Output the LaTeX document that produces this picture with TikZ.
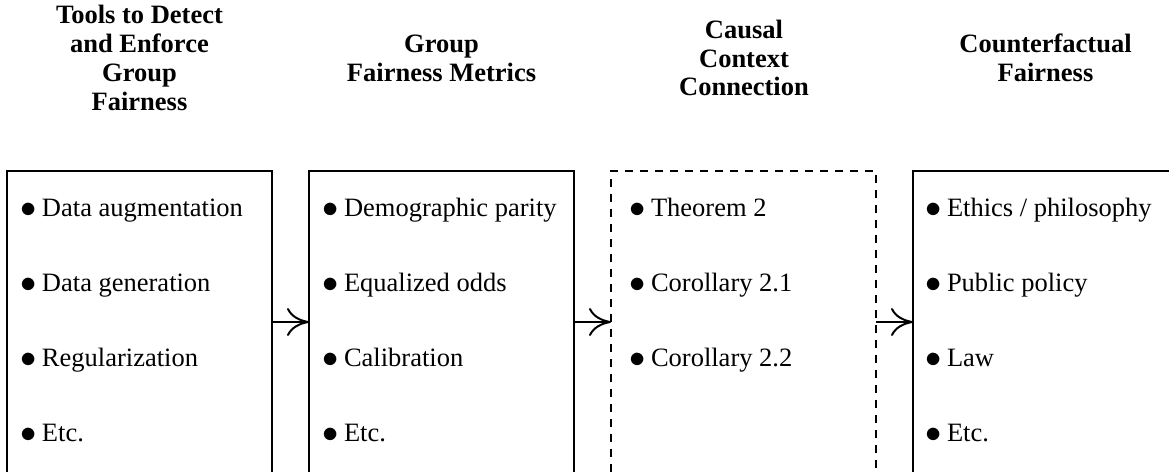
\documentclass[tikz,border=0pt]{standalone}
\usepackage{fontspec}
\setmainfont{Liberation Serif}
\usetikzlibrary{arrows.meta}
\newcommand{\bul}{\raisebox{-1.5pt}{\scalebox{1.3}{$\bullet$}}\kern-1pt}
\begin{document}
\begin{tikzpicture}[x=1pt,y=-1pt,
 box/.style={draw, line width=2pt, minimum width=265pt, minimum height=302pt, inner sep=0pt, outer sep=0pt, anchor=north west},
 dbox/.style={box, dash pattern=on 8pt off 7pt},
 head/.style={font=\fontsize{26.5}{28.8}\selectfont\bfseries, align=center, inner sep=0pt},
 item/.style={font=\fontsize{26.5}{30}\selectfont, anchor=base west, inner sep=0pt},
 link/.style={line width=2pt, -{Computer Modern Rightarrow[length=22pt,width=28pt]}}]
\clip (0,0) rectangle (1169,471);
\fill[white] (0,0) rectangle (1169,471);
% boxes
\node[box]  (b1) at (7,171) {};
\node[box]  (b2) at (309,171) {};
\node[dbox] (b3) at (611,171) {};
\node[box]  (b4) at (913,171) {};
% headers
\node[head] (h1) at (139.5,58) {Tools to Detect\\and Enforce\\Group\\Fairness};
\node[head] (h2) at (441.5,58) {Group\\Fairness Metrics};
\node[head] (h3) at (744,58) {Causal\\Context\\Connection};
\node[head] (h4) at (1045.5,58) {Counterfactual\\Fairness};
% items box 1
\node[item] (a1) at (20,216) {\bul{} Data augmentation};
\node[item] (a2) at (20,291) {\bul{} Data generation};
\node[item] (a3) at (20,366) {\bul{} Regularization};
\node[item] (a4) at (20,441) {\bul{} Etc.};
% items box 2
\node[item] (c1) at (322,216) {\bul{} Demographic parity};
\node[item] (c2) at (322,291) {\bul{} Equalized odds};
\node[item] (c3) at (322,366) {\bul{} Calibration};
\node[item] (c4) at (322,441) {\bul{} Etc.};
% items box 3
\node[item] (d1) at (629,216) {\bul{} Theorem 2};
\node[item] (d2) at (629,291) {\bul{} Corollary 2.1};
\node[item] (d3) at (629,366) {\bul{} Corollary 2.2};
% items box 4
\node[item] (e1) at (925,216) {\bul{} Ethics / philosophy};
\node[item] (e2) at (925,291) {\bul{} Public policy};
\node[item] (e3) at (925,366) {\bul{} Law};
\node[item] (e4) at (925,441) {\bul{} Etc.};
% arrows
\draw[link] (b1.east) -- (b2.west);
\draw[link] (b2.east) -- (b3.west);
\draw[link] (b3.east) -- (b4.west);
\end{tikzpicture}
\end{document}
